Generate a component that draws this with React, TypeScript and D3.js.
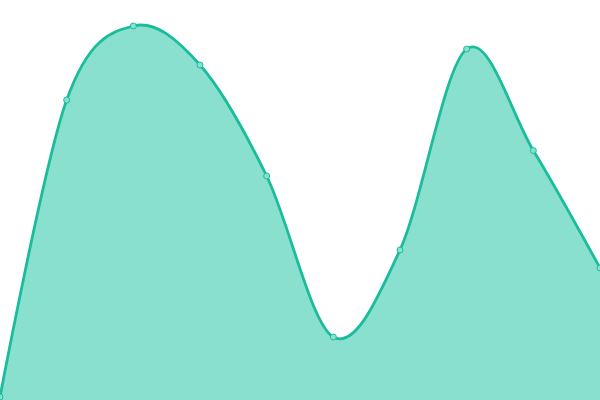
import React from "react";
import * as d3 from "d3";

const xIndex = [0, 1, 2, 3, 4, 5, 6, 7, 8, 9];
const values = [3, 300, 374, 335, 224, 63, 150, 351, 249.5, 132];

const W = 600;
const H = 400;
const LINE = "#1abc9c";
const FILL = "#8ae0cf";

export default function App() {
  const x = d3.scaleLinear().domain([0, xIndex.length - 1]).range([0, W]);
  const y = d3.scaleLinear().domain([0, 400]).range([H, 0]);
  const data = xIndex.map((i) => ({ i, v: values[i] }));

  const area = d3
    .area<{ i: number; v: number }>()
    .x((d) => x(d.i))
    .y0(H)
    .y1((d) => y(d.v))
    .curve(d3.curveCardinal);
  const line = d3
    .line<{ i: number; v: number }>()
    .x((d) => x(d.i))
    .y((d) => y(d.v))
    .curve(d3.curveCardinal);

  return (
    <svg
      width={W}
      height={H}
      style={{ position: "fixed", left: 0, top: 0, display: "block" }}
    >
      <path d={area(data) || ""} fill={FILL} />
      <path d={line(data) || ""} fill="none" stroke={LINE} strokeWidth={2.8} />
      {data.map((d) => (
        <circle
          key={d.i}
          cx={x(d.i)}
          cy={y(d.v)}
          r={3}
          fill={FILL}
          stroke={LINE}
          strokeWidth={1}
        />
      ))}
    </svg>
  );
}
